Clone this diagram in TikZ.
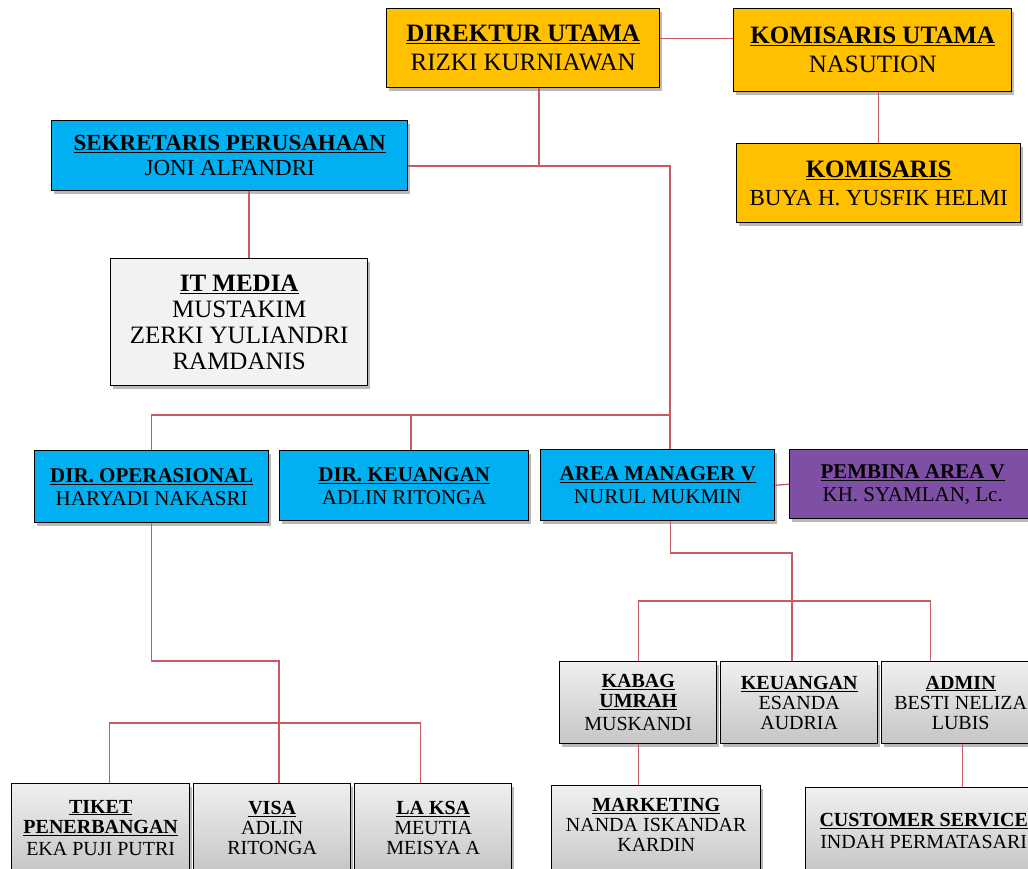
\documentclass[tikz,border=0pt]{standalone}
\usepackage{fontspec}
\setmainfont{Liberation Serif}
\usetikzlibrary{shadows}
\definecolor{emas}{HTML}{FFC000}
\definecolor{biru}{HTML}{00B0F0}
\definecolor{ungu}{HTML}{7F4FA6}
\definecolor{garis}{RGB}{200,90,100}
\newcommand{\hd}[1]{\underline{\textbf{#1}}}
\begin{document}
\begin{tikzpicture}[x=1pt,y=-1pt,
		box/.style={draw=black, line width=1.4pt, align=center, anchor=north west, inner sep=0pt,
			drop shadow={shadow xshift=2pt, shadow yshift=-3pt, opacity=.55}},
		kuning/.style={box, fill=emas},
		cyan/.style={box, fill=biru},
		lila/.style={box, fill=ungu},
		abu/.style={box, top color=gray!12, bottom color=gray!45},
		besar/.style={font=\fontsize{25}{29}\selectfont},
		sedang/.style={font=\fontsize{21}{23}\selectfont},
		kecil/.style={font=\fontsize{20}{20}\selectfont},
		link/.style={draw=garis, line width=1.3pt}]
			\useasboundingbox (0,0) rectangle (1028,868);
			\clip (0,0) rectangle (1028,868);
			\node[kuning, besar, minimum width=273, minimum height=79] (dirut) at (386,8) {\hd{DIREKTUR UTAMA}\\RIZKI KURNIAWAN};
			\node[kuning, besar, minimum width=278, minimum height=83] (komut) at (733,8) {\hd{KOMISARIS UTAMA}\\NASUTION};
			\node[kuning, minimum width=284, minimum height=79, font=\fontsize{23}{28}\selectfont] (kom) at (736,143) {\hd{\fontsize{25}{28}\selectfont KOMISARIS}\\BUYA H. YUSFIK HELMI};
			\node[cyan, minimum width=356, minimum height=70, font=\fontsize{23}{25}\selectfont] (sekre) at (51,120) {\hd{SEKRETARIS PERUSAHAAN}\\JONI ALFANDRI};
			\node[box, fill=gray!10, minimum width=257, minimum height=127, font=\fontsize{25}{26}\selectfont] (itm) at (110,258) {\hd{IT MEDIA}\\MUSTAKIM\\ZERKI YULIANDRI\\RAMDANIS};
			\node[cyan, sedang, minimum width=234, minimum height=72] (dirops) at (34,450) {\hd{DIR. OPERASIONAL}\\HARYADI NAKASRI};
			\node[cyan, sedang, minimum width=249, minimum height=70] (dirkeu) at (279,450) {\hd{DIR. KEUANGAN}\\ADLIN RITONGA};
			\node[cyan, sedang, minimum width=234, minimum height=71] (am) at (540,449) {\hd{AREA MANAGER V}\\NURUL MUKMIN};
			\node[lila, sedang, minimum width=246, minimum height=69] (pembina) at (789,449) {\hd{PEMBINA AREA V}\\KH. SYAMLAN, Lc.};
			\node[abu, kecil, minimum width=157, minimum height=82] (kabag) at (559,661) {\hd{KABAG}\\\hd{UMRAH}\\[3pt]MUSKANDI};
			\node[abu, kecil, minimum width=157, minimum height=82] (keu) at (720,661) {\hd{KEUANGAN}\\ESANDA\\AUDRIA};
			\node[abu, kecil, minimum width=158, minimum height=82] (admin) at (881,661) {\hd{ADMIN}\\BESTI NELIZA\\LUBIS};
			\node[abu, kecil, minimum width=178, minimum height=88] (tiket) at (11,783) {\hd{TIKET}\\\hd{PENERBANGAN}\\[2pt]EKA PUJI PUTRI};
			\node[abu, kecil, minimum width=157, minimum height=88] (visa) at (193,783) {\hd{VISA}\\ADLIN\\RITONGA};
			\node[abu, kecil, minimum width=157, minimum height=88] (laksa) at (354,783) {\hd{LA KSA}\\MEUTIA\\MEISYA A};
			\node[abu, kecil, minimum width=209, minimum height=92, text depth=14pt] (mkt) at (551,785) {\hd{MARKETING}\\NANDA ISKANDAR\\KARDIN};
			\node[abu, kecil, minimum width=236, minimum height=86] (cs) at (805,787) {\hd{CUSTOMER SERVICE}\\[2pt]INDAH PERMATASARI};
			\coordinate (a1) at (539,166);
			\coordinate (a2) at (670,415);
			\coordinate (a3) at (249,258);
			\coordinate (a4) at (411,415);
			\coordinate (b1) at (279,661);
			\coordinate (b2) at (279,723);
			\coordinate (c1) at (792,553);
			\coordinate (c2) at (792,601);
			\draw[link] ([yshift=9.5pt]dirut.east) -- ([yshift=9.5pt]dirut.east -| komut.west);
			\draw[link] (kom.north) -- (kom.north |- komut.south);
			\draw[link] (a1 |- dirut.south) -- (a1);
			\draw[link] (sekre.east |- a1) -| (a2) -- (a2 |- am.north);
			\draw[link] (a3 |- sekre.south) -- (a3);
			\draw[link] (a2) -| (dirops.north);
			\draw[link] (a4) -- (a4 |- dirkeu.north);
			\draw[link] (am.east) -- (pembina.west);
			\draw[link] (dirops.south) |- (b1) -- (b1 |- visa.north);
			\draw[link] ([xshift=9pt]tiket.north) |- (b2) -| ([xshift=-12.5pt]laksa.north);
			\draw[link] ([xshift=13pt]am.south) |- (c1) -- (c1 |- keu.north);
			\draw[link] (kabag.north) |- (c2) -| ([xshift=-30pt]admin.north);
			\draw[link] (kabag.south) -- (kabag.south |- mkt.north);
			\draw[link] ([xshift=2pt]admin.south) -- ([xshift=2pt]admin.south |- cs.north);
			\end{tikzpicture}
\end{document}
